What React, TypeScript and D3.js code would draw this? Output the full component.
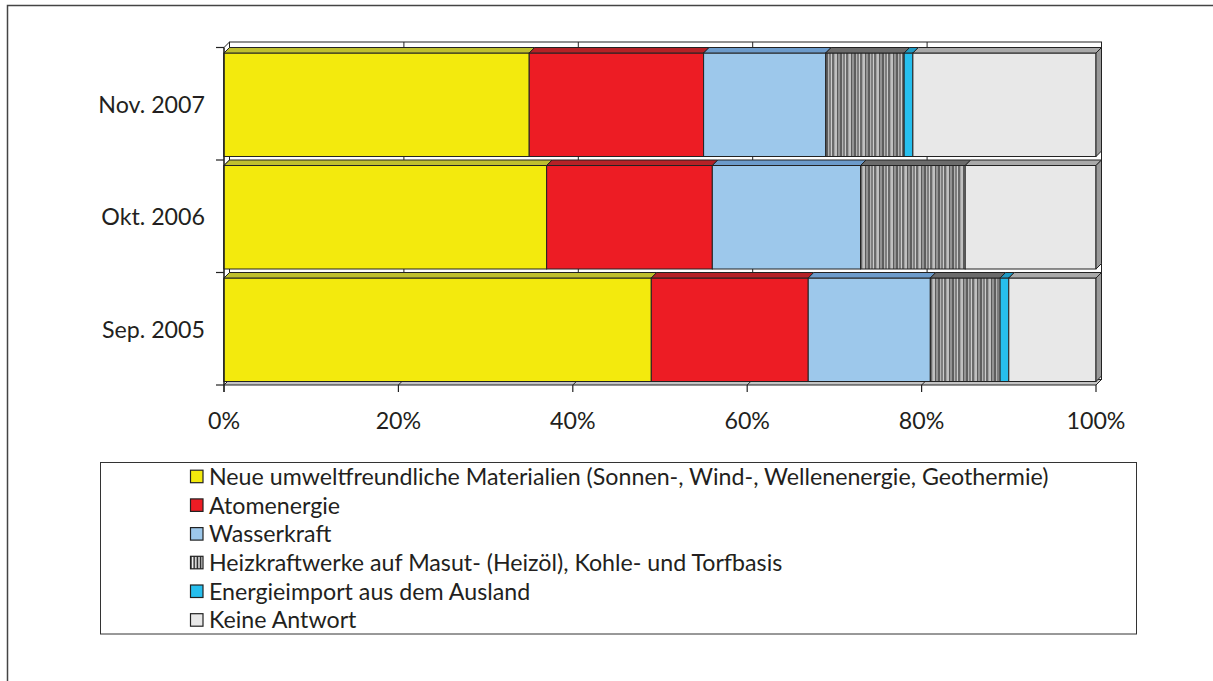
import * as d3 from 'd3';
import React, { useEffect, useRef } from 'react';

const categories = ['Nov. 2007', 'Okt. 2006', 'Sep. 2005'];
const seriesNames = [
  'Neue umweltfreundliche Materialien (Sonnen-, Wind-, Wellenenergie, Geothermie)',
  'Atomenergie',
  'Wasserkraft',
  'Heizkraftwerke auf Masut- (Heizöl), Kohle- und Torfbasis',
  'Energieimport aus dem Ausland',
  'Keine Antwort',
];
// percent per series, one array per survey
const nov2007 = [35, 20, 14, 9, 1, 21];
const okt2006 = [37, 19, 17, 12, 0, 15];
const sep2005 = [49, 18, 14, 8, 1, 10];
const tickValues = [0, 20, 40, 60, 80, 100];

const frontColors = ['#f3ea0d', '#ed1c24', '#9dc8eb', 'url(#hatch)', '#27bfee', '#e8e8e8'];
const topColors = ['#bfbf2e', '#b52126', '#6c9bcb', '#6b6b6b', '#1e9ac4', '#a9a9a9'];
const legendColors = ['#f3ea0d', '#ed1c24', '#9dc8eb', 'url(#legendHatch)', '#27bfee', '#e8e8e8'];

const FONT = 'Lato, "Open Sans", sans-serif';

const App = () => {
  const ref = useRef<SVGSVGElement>(null);

  useEffect(() => {
    const svg = d3.select(ref.current);
    svg.selectAll('*').remove();

    const values = [nov2007, okt2006, sep2005];
    const rows = categories.map((c, i) => {
      const r: any = { cat: c };
      seriesNames.forEach((s, j) => (r[s] = values[i][j]));
      return r;
    });
    const stacked = d3.stack().keys(seriesNames)(rows);

    const d = 5.5; // 3d depth
    const x = d3.scaleLinear().domain([0, 100]).range([224, 1096]);
    const y = d3.scaleBand().domain(categories).range([47.5, 385]);
    const padTop = 5.5;
    const padBottom = 3.5;
    const [y0, y1] = y.range();
    const [x0, x1] = x.range();

    // patterns
    const defs = svg.append('defs');
    const hatch = defs.append('pattern').attr('id', 'hatch').attr('patternUnits', 'userSpaceOnUse')
      .attr('width', 14).attr('height', 10);
    const stripes = [
      [0, 2, '#5e5e5e'], [2, 1, '#b4b4b4'], [3, 2, '#7e7e7e'], [5, 1, '#cccccc'], [6, 2, '#6a6a6a'],
      [8, 1, '#a2a2a2'], [9, 2, '#c0c0c0'], [11, 1, '#5a5a5a'], [12, 2, '#939393'],
    ];
    stripes.forEach((s: any) => hatch.append('rect').attr('x', s[0]).attr('y', 0).attr('width', s[1]).attr('height', 10).attr('fill', s[2]));
    const lh = defs.append('pattern').attr('id', 'legendHatch').attr('patternUnits', 'userSpaceOnUse')
      .attr('width', 3.2).attr('height', 10).attr('x', 190.6);
    lh.append('rect').attr('width', 3.2).attr('height', 10).attr('fill', '#222');
    lh.append('rect').attr('x', 1.2).attr('width', 1.6).attr('height', 10).attr('fill', '#fff');

    // outer frame
    svg.append('rect').attr('x', 7.5).attr('y', 5.5).attr('width', 1400).attr('height', 900)
      .attr('fill', 'none').attr('stroke', '#444').attr('stroke-width', 1.5);

    const g = svg.append('g');

    // back wall
    g.append('rect').attr('x', x0 + d).attr('y', y0 - d).attr('width', x1 - x0).attr('height', y1 - y0)
      .attr('fill', '#fff').attr('stroke', '#222').attr('stroke-width', 1);
    // gridlines on the back wall
    g.selectAll('.grid').data(tickValues).enter().append('line')
      .attr('x1', (t) => x(t) + d).attr('x2', (t) => x(t) + d)
      .attr('y1', y0 - d).attr('y2', y1 - d).attr('stroke', '#222').attr('stroke-width', 1);
    // floor
    g.append('path')
      .attr('d', `M${x0},${y1}L${x1},${y1}L${x1 + d},${y1 - d}L${x0 + d},${y1 - d}Z`)
      .attr('fill', '#c4c4c4').attr('stroke', '#222').attr('stroke-width', 1);
    g.selectAll('.floorgrid').data(tickValues).enter().append('line')
      .attr('x1', (t) => x(t)).attr('x2', (t) => x(t) + d)
      .attr('y1', y1).attr('y2', y1 - d).attr('stroke', '#222');
    // left wall
    g.append('path')
      .attr('d', `M${x0},${y0}L${x0 + d},${y0 - d}L${x0 + d},${y1 - d}L${x0},${y1}Z`)
      .attr('fill', '#fff').attr('stroke', '#222').attr('stroke-width', 1);

    // bars
    categories.forEach((cat, ci) => {
      const top = (y(cat) as number) + padTop;
      const bottom = (y(cat) as number) + y.bandwidth() - padBottom;
      const segs = stacked.map((s, si) => ({ si, a: s[ci][0], b: s[ci][1] })).filter((s) => s.b > s.a);
      const bg = g.append('g');
      // left end face of the bar
      bg.append('path')
        .attr('d', `M${x0},${top}L${x0 + d},${top - d}L${x0 + d},${bottom - d}L${x0},${bottom}Z`)
        .attr('fill', '#8a8a8a').attr('stroke', '#222').attr('stroke-width', 1);
      segs.forEach((s) => {
        const xa = x(s.a);
        const xb = x(s.b);
        bg.append('rect').attr('x', xa).attr('y', top).attr('width', xb - xa).attr('height', bottom - top)
          .attr('fill', frontColors[s.si]).attr('stroke', '#222').attr('stroke-width', 1);
        bg.append('path')
          .attr('d', `M${xa},${top}L${xb},${top}L${xb + d},${top - d}L${xa + d},${top - d}Z`)
          .attr('fill', topColors[s.si]).attr('stroke', '#222').attr('stroke-width', 1);
      });
      const last = segs[segs.length - 1];
      const xe = x(last.b);
      bg.append('path')
        .attr('d', `M${xe},${top}L${xe + d},${top - d}L${xe + d},${bottom - d}L${xe},${bottom}Z`)
        .attr('fill', '#999').attr('stroke', '#222').attr('stroke-width', 1);
    });

    // axes
    g.append('line').attr('x1', x0).attr('x2', x0).attr('y1', y0).attr('y2', y1 + 7).attr('stroke', '#222').attr('stroke-width', 1.2);
    const bounds = categories.map((c) => y(c) as number).concat([y1]);
    g.selectAll('.ytick').data(bounds).enter().append('line')
      .attr('x1', x0 - 8).attr('x2', x0).attr('y1', (b) => b).attr('y2', (b) => b)
      .attr('stroke', '#222').attr('stroke-width', 1.2);
    g.selectAll('.xtick').data(tickValues).enter().append('line')
      .attr('x1', (t) => x(t)).attr('x2', (t) => x(t)).attr('y1', y1).attr('y2', y1 + 7)
      .attr('stroke', '#222').attr('stroke-width', 1.2);

    // legend
    const lg = svg.append('g');
    lg.append('rect').attr('x', 100.5).attr('y', 462.5).attr('width', 1036).attr('height', 171.5)
      .attr('fill', '#fff').attr('stroke', '#333').attr('stroke-width', 1);
    const rowY = (i: number) => 476.7 + i * 28.7;
    const labels = lg.selectAll('.legend-text').data(seriesNames).enter().append('text')
      .attr('class', 'legend-text')
      .attr('x', 209).attr('y', (s, i) => rowY(i)).attr('dy', '0.35em')
      .style('font-family', FONT).style('font-size', '20px').attr('fill', '#231f20')
      .text((s) => s);
    lg.selectAll('.legend-box').data(seriesNames).enter().append('rect')
      .attr('x', 190.5).attr('y', (s, i) => rowY(i) - 6.5).attr('width', 12.5).attr('height', 12.5)
      .attr('fill', (s, i) => legendColors[i]).attr('stroke', '#222').attr('stroke-width', 1.2);

    // fit font to reference width of the first legend line
    const firstLen = (labels.node() as SVGTextElement).getComputedTextLength();
    const fs = (20 * 840) / firstLen;
    labels.style('font-size', fs + 'px');

    // tick labels
    svg.selectAll('.xlabel').data(tickValues).enter().append('text')
      .attr('x', (t) => x(t)).attr('y', 421).attr('dy', '0.35em').attr('text-anchor', 'middle')
      .style('font-family', FONT).style('font-size', fs + 'px').attr('fill', '#231f20')
      .text((t) => t + '%');
    svg.selectAll('.ylabel').data(categories).enter().append('text')
      .attr('x', 205).attr('y', (c) => (y(c) as number) + (padTop + y.bandwidth() - padBottom) / 2)
      .attr('dy', '0.35em').attr('text-anchor', 'end')
      .style('font-family', FONT).style('font-size', fs + 'px').attr('fill', '#231f20')
      .text((c) => c);
  }, []);

  return (
    <svg ref={ref} width={1213} height={681}
      style={{ position: 'absolute', left: 0, top: 0, background: '#fff', overflow: 'hidden' }} />
  );
};

export default App;
